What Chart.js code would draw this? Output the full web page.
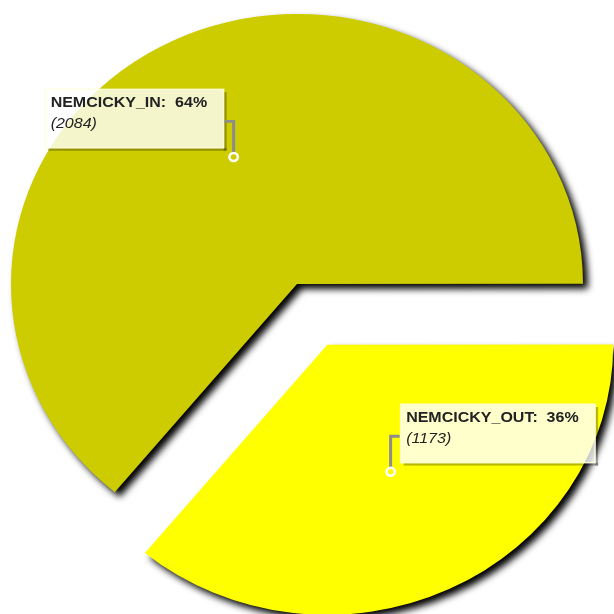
<!DOCTYPE html>
<html><head><meta charset="utf-8">
<script src="https://cdn.jsdelivr.net/npm/chart.js@4/dist/chart.umd.min.js"></script>
<style>html,body{margin:0;padding:0;background:#fff;overflow:hidden} canvas{display:block}</style>
</head><body>
<canvas id="c" width="614" height="614" style="width:614px;height:614px"></canvas>
<script>
const categories = ['NEMCICKY_IN', 'NEMCICKY_OUT'];
const counts = [2084, 1173];
const sliceColors = ['#cccc00', '#ffff00'];
const explodeBy = [0, 71];

const total = counts.reduce((a, b) => a + b, 0);
const percents = counts.map(v => Math.round(v / total * 100) + '%');
const SY = 614 / 650;
const FONT = '"Liberation Sans", Arial, sans-serif';

function sliceGeom(arc, i) {
  const mid = (arc.startAngle + arc.endAngle) / 2;
  const e = explodeBy[i];
  return { mid, cx: arc.x + Math.cos(mid) * e, cy: arc.y + Math.sin(mid) * e, r: arc.outerRadius };
}

const piePlugin = {
  id: 'piestyle',
  beforeDraw(chart) { chart.ctx.save(); chart.ctx.scale(1, SY); },
  beforeDatasetsDraw(chart) {
    const meta = chart.getDatasetMeta(0);
    meta.data.forEach((arc, i) => {
      if (arc._expl) return;
      const base = arc.draw;
      arc.draw = function (ctx, area) {
        const mid = (this.startAngle + this.endAngle) / 2;
        ctx.save();
        ctx.translate(Math.cos(mid) * explodeBy[i], Math.sin(mid) * explodeBy[i]);
        base.call(this, ctx, area);
        ctx.restore();
      };
      arc._expl = true;
    });
    const ctx = chart.ctx;
    ctx.save();
    ctx.shadowColor = 'rgba(0,0,0,1)';
    ctx.shadowBlur = 7;
    ctx.shadowOffsetX = 5;
    ctx.shadowOffsetY = 5;
  },
  afterDatasetsDraw(chart) {
    const ctx = chart.ctx;
    ctx.restore();
    const meta = chart.getDatasetMeta(0);
    meta.data.forEach((arc, i) => {
      const g = sliceGeom(arc, i);
      const ax = g.cx + Math.cos(g.mid) * g.r * 0.52;
      const ay = g.cy + Math.sin(g.mid) * g.r * 0.52;
      const title = categories[i] + ':  ' + percents[i];
      const sub = '(' + counts[i] + ')';
      ctx.font = 'bold 16px ' + FONT;
      const tw = ctx.measureText(title).width;
      ctx.font = 'italic 16px ' + FONT;
      const sw = ctx.measureText(sub).width;
      const w = Math.max(tw, sw) + 22, h = 62;
      const leftSide = ax < arc.x;
      const left = leftSide ? ax - 10 - w : ax + 10;
      const top = ay - 9.6 - h;
      // box shadow strips
      ctx.fillStyle = 'rgba(0,0,0,0.28)';
      ctx.fillRect(left + w, top + 3, 3, h);
      ctx.fillRect(left + 3, top + h, w, 3);
      // box
      ctx.fillStyle = 'rgba(255,255,255,0.8)';
      ctx.fillRect(left, top, w, h);
      ctx.strokeStyle = 'rgba(255,255,220,0.9)';
      ctx.lineWidth = 1.5;
      ctx.strokeRect(left, top, w, h);
      // text
      ctx.fillStyle = '#222';
      ctx.textBaseline = 'alphabetic';
      ctx.textAlign = 'left';
      ctx.font = 'bold 16px ' + FONT;
      ctx.fillText(title, left + 5.5, top + 19);
      ctx.font = 'italic 16px ' + FONT;
      ctx.fillText(sub, left + 5.5, top + 41);
      // connector
      const ly = top + 34;
      const sx = leftSide ? left + w + 1 : left - 1;
      ctx.strokeStyle = '#8c8c8c';
      ctx.lineWidth = 3;
      ctx.lineJoin = 'miter';
      ctx.beginPath();
      ctx.moveTo(sx, ly);
      ctx.lineTo(ax, ly);
      ctx.lineTo(ax, ay - 4);
      ctx.stroke();
      ctx.beginPath();
      ctx.arc(ax, ay, 4.2, 0, Math.PI * 2);
      ctx.strokeStyle = '#ffffff';
      ctx.lineWidth = 2.6;
      ctx.stroke();
    });
  },
  afterDraw(chart) { chart.ctx.restore(); }
};

new Chart(document.getElementById('c'), {
  type: 'pie',
  data: {
    labels: categories,
    datasets: [{
      data: counts,
      backgroundColor: sliceColors,
      borderWidth: 0,
      radius: 286,
      clip: false
    }]
  },
  options: {
    responsive: false,
    animation: false,
    events: [],
    rotation: 219.6,
    layout: { padding: { left: 0, top: 0, right: 20, bottom: 12.6 } },
    plugins: { legend: { display: false }, tooltip: { enabled: false } }
  },
  plugins: [piePlugin]
});
</script>
</body></html>
